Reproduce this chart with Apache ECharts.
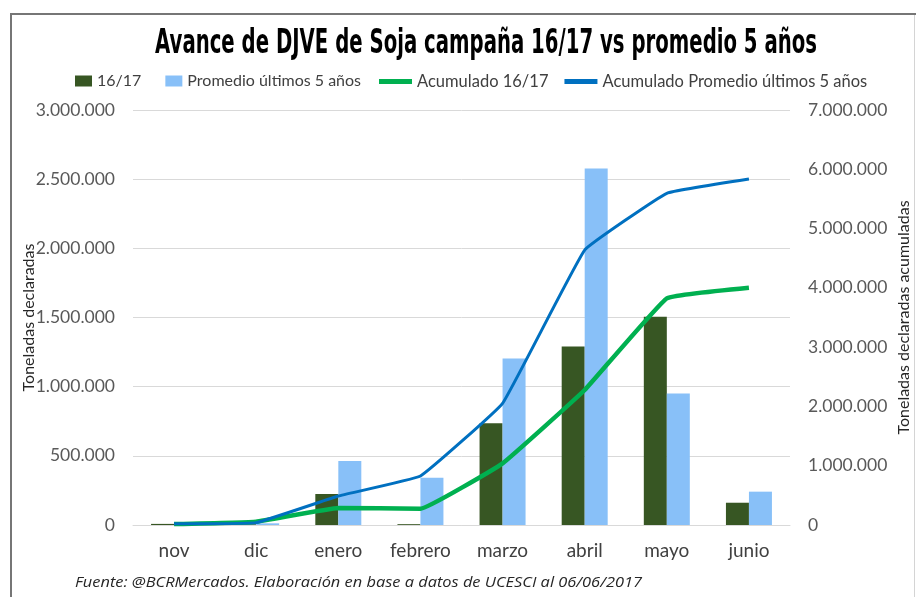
<!DOCTYPE html>
<html><head><meta charset="utf-8">
<script src="https://cdn.jsdelivr.net/npm/echarts@6/dist/echarts.min.js"></script>
<style>html,body{margin:0;padding:0;background:#fff}#c{width:916px;height:597px}</style>
</head><body><div id="c"></div>
<script>
const categories = ['nov','dic','enero','febrero','marzo','abril','mayo','junio'];
const serie1617 = [8000, 5000, 224000, 6000, 735000, 1290000, 1505000, 161000];
const seriePromedio = [4000, 12000, 462000, 342000, 1204000, 2577000, 951000, 241000];
const acumulado1617 = [15000, 55000, 287000, 275000, 1040000, 2277000, 3823000, 4002000];
const acumuladoPromedio = [20000, 40000, 489000, 826000, 2052000, 4637000, 5594000, 5835000];
const titleText = 'Avance de DJVE de Soja campaña 16/17 vs promedio 5 años';
const footText = 'Fuente: @BCRMercados. Elaboración en base a datos de UCESCI al 06/06/2017';

function fmt(v){ return String(Math.round(v)).replace(/\B(?=(\d{3})+(?!\d))/g,'.'); }
function measure(txt, font){ const c=document.createElement('canvas').getContext('2d'); c.font=font; return c.measureText(txt).width; }
const titleFont = 'bold 34px "DejaVu Sans"';
const titleScale = 662 / measure(titleText, titleFont);
const footFont = 'italic 15px "Open Sans"';
const footScale = 567 / measure(footText, footFont);

const chart = echarts.init(document.getElementById('c'), null, {renderer:'canvas'});
const lab = {color:'#595959', fontFamily:'Lato', fontSize:17.5};
chart.setOption({
  animation:false,
  backgroundColor:'#fff',
  grid:{left:133, right:126, top:110, bottom:72, containLabel:false, outerBoundsMode:'none'},
  legend:[
    {left:70, top:68, itemWidth:17, itemHeight:11, itemGap:24, icon:'rect',
     textStyle:{color:'#404040', fontFamily:'Lato', fontSize:16},
     data:['16/17','Promedio últimos 5 años']},
    {left:374, top:68, itemWidth:33, itemHeight:5, itemGap:16, icon:'rect',
     textStyle:{color:'#404040', fontFamily:'Lato', fontSize:16.5},
     data:['Acumulado 16/17','Acumulado Promedio últimos 5 años']}
  ],
  xAxis:{type:'category', data:categories,
    axisLine:{lineStyle:{color:'#d9d9d9'}}, axisTick:{show:false},
    axisLabel:{color:'#404040', fontFamily:'Lato', fontSize:19, margin:16}},
  yAxis:[
    {type:'value', min:0, max:3000000, interval:500000,
     name:'Toneladas declaradas', nameLocation:'middle', nameGap:96, nameMoveOverlap:false,
     nameTextStyle:{color:'#262626', fontFamily:'Lato', fontSize:16},
     axisLabel:Object.assign({formatter:fmt, margin:18}, lab),
     splitLine:{lineStyle:{color:'#d9d9d9'}}, axisLine:{show:false}, axisTick:{show:false}},
    {type:'value', min:0, max:7000000, interval:1000000,
     name:'Toneladas declaradas acumuladas', nameLocation:'middle', nameGap:106, nameRotate:90, nameMoveOverlap:false,
     nameTextStyle:{color:'#262626', fontFamily:'Lato', fontSize:16},
     axisLabel:Object.assign({formatter:fmt, margin:18}, lab),
     splitLine:{show:false}, axisLine:{show:false}, axisTick:{show:false}}
  ],
  series:[
    {name:'16/17', type:'bar', data:serie1617, barWidth:23, barGap:'0%', itemStyle:{color:'#375623'}},
    {name:'Promedio últimos 5 años', type:'bar', data:seriePromedio, barWidth:23, itemStyle:{color:'#88c0f8'}},
    {name:'Acumulado 16/17', type:'line', yAxisIndex:1, data:acumulado1617, symbol:'none', smooth:0.08,
     lineStyle:{color:'#00b050', width:4.5}, itemStyle:{color:'#00b050'}, z:5},
    {name:'Acumulado Promedio últimos 5 años', type:'line', yAxisIndex:1, data:acumuladoPromedio, symbol:'none', smooth:0.08,
     lineStyle:{color:'#0070c0', width:3}, itemStyle:{color:'#0070c0'}, z:6}
  ],
  graphic:[
    {type:'line', shape:{x1:10, y1:14, x2:916, y2:14}, style:{stroke:'#767676', lineWidth:2}, silent:true},
    {type:'line', shape:{x1:11, y1:13, x2:11, y2:597}, style:{stroke:'#767676', lineWidth:2}, silent:true},
    {type:'line', shape:{x1:914.5, y1:15, x2:914.5, y2:597}, style:{stroke:'#d4d4d4', lineWidth:1}, silent:true},
    {type:'text', x:155, y:44, scaleX:titleScale, scaleY:1,
     style:{text:titleText, font:titleFont, fill:'#000', textVerticalAlign:'middle', textAlign:'left'}},
    {type:'text', x:75, y:583, scaleX:footScale, scaleY:1,
     style:{text:footText, font:footFont, fill:'#262626', textVerticalAlign:'middle', textAlign:'left'}}
  ]
});
</script></body></html>
